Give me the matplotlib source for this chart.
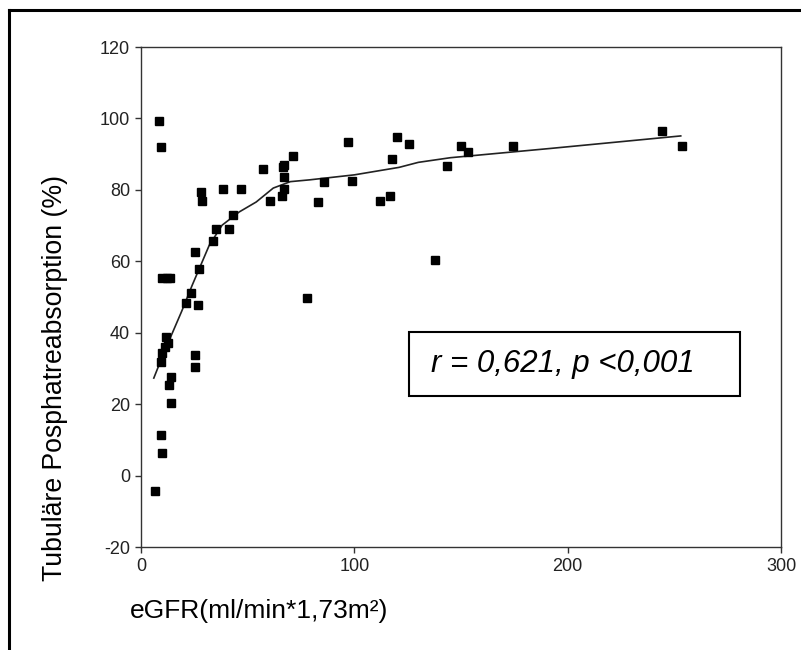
import matplotlib.pyplot as plt
from matplotlib import font_manager
from matplotlib.lines import Line2D

# scatter points
egfr = [8.6, 9.4, 28.0, 28.8, 38.4, 46.8, 57.1, 60.7, 66.5, 67.1, 67.1, 67.1, 66.3,
        71.2, 43.2, 35.2, 41.3, 33.9, 25.4, 27.2, 10.0, 12.0, 13.6, 23.5, 21.1,
        26.6, 11.7, 12.5, 11.3, 9.7, 9.4, 25.4, 25.4, 14.1, 13.1, 14.1, 9.4, 10.0,
        6.6, 78.0, 96.9, 85.6, 83.0, 99.1, 120.0, 125.7, 117.8, 112.2, 116.9,
        143.5, 149.8, 153.2, 174.5, 138.0, 244.4, 253.5]
tpr = [99.3, 91.9, 79.4, 77.0, 80.3, 80.3, 85.9, 77.0, 86.3, 87.0, 83.6, 80.3, 78.4,
       89.6, 73.0, 68.9, 68.9, 65.7, 62.6, 57.8, 55.4, 55.2, 55.4, 51.0, 48.2,
       47.8, 38.7, 37.0, 36.0, 34.3, 31.7, 33.8, 30.3, 27.5, 25.5, 20.4, 11.5, 6.4,
       -4.3, 49.6, 93.3, 82.2, 76.6, 82.6, 94.7, 92.8, 88.7, 77.0, 78.4,
       86.8, 92.4, 90.5, 92.4, 60.3, 96.5, 92.4]

# fitted curve
fit_x = [6, 11, 19, 24, 32, 38, 46, 54, 62, 70, 79, 100, 121, 130, 145, 192, 253]
fit_y = [27.3, 34.8, 45.9, 53.3, 64.5, 70.1, 73.8, 76.6, 80.5, 82.3, 82.8, 84.2,
         86.3, 87.7, 89.0, 91.6, 95.1]

xticks = [0, 100, 200, 300]
yticks = [-20, 0, 20, 40, 60, 80, 100, 120]

plt.rcParams['font.family'] = ['Liberation Sans', 'DejaVu Sans']
plt.rcParams['axes.unicode_minus'] = False

# condensed digits on the ticks if the narrow face is there
try:
    font_manager.findfont('Liberation Sans Narrow', fallback_to_default=False)
    tick_family, tick_size = 'Liberation Sans Narrow', 14
except ValueError:
    tick_family, tick_size = 'Liberation Sans', 13

fig = plt.figure(figsize=(8.01, 6.5), dpi=100)
ax = fig.add_axes([141 / 801, 1 - 547 / 650, 640 / 801, 500 / 650])

ax.plot(fit_x, fit_y, color='#222222', lw=1.2, zorder=2)
ax.plot(egfr, tpr, 's', color='black', ms=5.5, zorder=3)

ax.set_xlim(0, 300)
ax.set_ylim(-20, 120)
ax.set_xticks(xticks)
ax.set_yticks(yticks)
ax.tick_params(direction='out', length=4, width=1, color='#333333', pad=4,
               labelcolor='#222222')
for lab in ax.get_xticklabels() + ax.get_yticklabels():
    lab.set_family(tick_family)
    lab.set_fontsize(tick_size)
for s in ax.spines.values():
    s.set_color('#333333')
    s.set_linewidth(1.0)

fig.text(55 / 801, 1 - 378 / 650, 'Tubuläre Posphatreabsorption (%)', rotation=90,
         ha='center', va='center', fontsize=19.2)
fig.text(130 / 801, 1 - 618 / 650, 'eGFR(ml/min*1,73m²)', ha='left', va='baseline',
         fontsize=19)

fig.text(431 / 801, 1 - 364 / 650, 'r = 0,621, p <0,001', ha='left', va='center',
         fontsize=22.5, style='italic')
fig.add_artist(plt.Rectangle((409 / 801, 1 - 396 / 650), 331 / 801, 64 / 650,
                             fill=False, ec='black', lw=1.5, transform=fig.transFigure))

# outer frame: only top and left edges are visible
fig.add_artist(Line2D([9 / 801, 1], [1 - 10 / 650, 1 - 10 / 650], color='black', lw=2.2))
fig.add_artist(Line2D([9 / 801, 9 / 801], [0, 1 - 10 / 650], color='black', lw=2.2))

fig.savefig('out.png', dpi=100)
